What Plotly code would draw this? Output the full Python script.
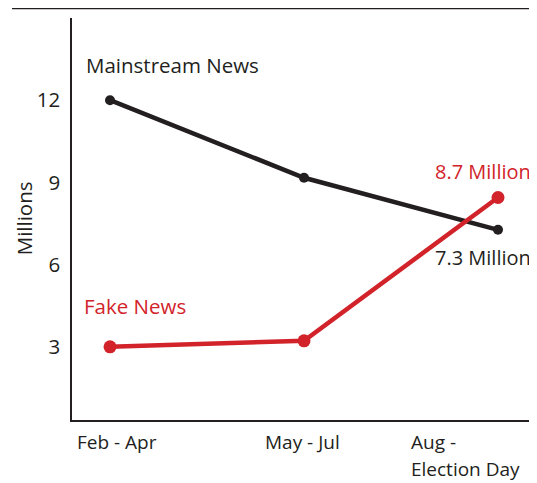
import plotly.graph_objects as go

categories = ["Feb - Apr", "May - Jul", "Aug -<br>Election Day"]
mainstream = [12.0, 9.17, 7.27]
fake = [3.0, 3.22, 8.45]
y_ticks = [3, 6, 9, 12]
end_labels = ["7.3 Million", "8.7 Million"]

BLACK = "#231f20"
RED = "#d2232a"
FONT = "Open Sans"
FS = 20

x = list(range(len(categories)))

fig = go.Figure()
fig.add_trace(go.Scatter(x=x, y=mainstream, mode="lines+markers",
                         line=dict(color=BLACK, width=4.5),
                         marker=dict(color=BLACK, size=10),
                         hoverinfo="skip", showlegend=False))
fig.add_trace(go.Scatter(x=x, y=fake, mode="lines+markers",
                         line=dict(color=RED, width=4.5),
                         marker=dict(color=RED, size=13),
                         hoverinfo="skip", showlegend=False))

ann = []
# category labels (left aligned under each period); multi-line labels split per line
xshifts = [-34, -40, -88]
for i, (c, s) in enumerate(zip(categories, xshifts)):
    lines = c.split("<br>")
    for j, line in enumerate(lines):
        if j == 0:
            ann.append(dict(x=i, y=0, xref="x", yref="paper", text=line, showarrow=False,
                            xanchor="left", yanchor="top", align="left", xshift=s, yshift=-8,
                            borderpad=0, font=dict(family=FONT, size=19, color=BLACK)))
        else:
            ann.append(dict(x=i, y=0, xref="x", yref="paper", text=line, showarrow=False,
                            xanchor="left", yanchor="bottom", align="left", xshift=s, yshift=-63,
                            borderpad=0, font=dict(family=FONT, size=19, color=BLACK)))
ann.append(dict(x=0, y=mainstream[0], text="Mainstream News", showarrow=False,
                xanchor="left", yanchor="middle", xshift=-26, yshift=35,
                font=dict(family=FONT, size=FS + 0.5, color=BLACK)))
ann.append(dict(x=0, y=fake[0], text="Fake News", showarrow=False,
                xanchor="left", yanchor="middle", xshift=-28, yshift=41,
                font=dict(family=FONT, size=FS + 0.5, color=RED)))
ann.append(dict(x=2, y=fake[2], text=end_labels[1], showarrow=False,
                xanchor="right", yanchor="middle", xshift=35, yshift=26,
                font=dict(family=FONT, size=FS, color=RED)))
ann.append(dict(x=2, y=mainstream[2], text=end_labels[0], showarrow=False,
                xanchor="right", yanchor="middle", xshift=35, yshift=-28,
                font=dict(family=FONT, size=FS, color=BLACK)))
ann.append(dict(x=-0.103, y=0.502, xref="paper", yref="paper", text="Millions",
                showarrow=False, textangle=-90, xanchor="center", yanchor="middle",
                font=dict(family=FONT, size=FS + 0.5, color=BLACK)))

fig.update_layout(
    width=529, height=475,
    margin=dict(l=64, r=0, t=10, b=63),
    paper_bgcolor="white", plot_bgcolor="white",
    font=dict(family=FONT, size=FS, color=BLACK),
    xaxis=dict(range=[-0.196, 2.201], showticklabels=False, showgrid=False,
               zeroline=False, showline=True, linecolor=BLACK, linewidth=1.5,
               ticks=""),
    yaxis=dict(range=[0.33, 15.0], tickvals=y_ticks, showgrid=False, zeroline=False,
               showline=True, linecolor=BLACK, linewidth=1.5, ticks="",
               ticklabelstandoff=6,
               tickfont=dict(family=FONT, size=FS + 0.5, color=BLACK)),
    annotations=ann,
    shapes=[dict(type="line", xref="paper", yref="paper", x0=-0.129, x1=1.0,
                 y0=1.025, y1=1.025, line=dict(color=BLACK, width=2.5))],
)

fig.write_html("out.html")
